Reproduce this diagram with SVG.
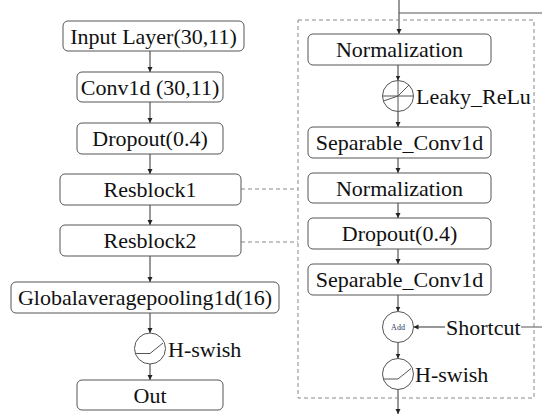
<svg xmlns="http://www.w3.org/2000/svg" width="542" height="416" viewBox="0 0 542 416">
<defs>
<marker id="ah" viewBox="0 0 10 10" refX="10" refY="5" markerWidth="5" markerHeight="6" markerUnits="userSpaceOnUse" orient="auto">
<path d="M0,0 L10,5 L0,10 z" fill="#222"/>
</marker>
</defs>
<style>
.box{fill:#fff;stroke:#555;stroke-width:1}
.t{font-family:'Liberation Serif','Times New Roman',serif;font-size:22px;fill:#111;text-anchor:middle}
.tl{font-family:'Liberation Serif','Times New Roman',serif;font-size:22px;fill:#111}
.ar{stroke:#333;stroke-width:1;fill:none;marker-end:url(#ah)}
.ln{stroke:#555;stroke-width:1;fill:none}
.dash{stroke:#888;stroke-width:1;fill:none;stroke-dasharray:4 3}
.circ{fill:#fff;stroke:#555;stroke-width:1}
.g{stroke:#555;stroke-width:1;fill:none}
</style>
<rect width="542" height="416" fill="#fff"/>

<g id="connectors">
<line class="ar" x1="150" y1="51" x2="150" y2="72"/>
<line class="ar" x1="150" y1="102" x2="150" y2="123"/>
<line class="ar" x1="150" y1="154" x2="150" y2="174"/>
<line class="ar" x1="150" y1="205" x2="150" y2="225"/>
<line class="ar" x1="150" y1="256" x2="150" y2="282"/>
<line class="ar" x1="150" y1="313" x2="150" y2="333"/>
<line class="ar" x1="150" y1="364" x2="150" y2="380"/>
<line class="dash" x1="241" y1="189" x2="298" y2="189"/>
<line class="dash" x1="241" y1="242" x2="298" y2="242"/>
<line class="ar" x1="399" y1="0" x2="399" y2="34"/>
<line class="ln" x1="399" y1="13" x2="542" y2="13"/>
<line class="ar" x1="398" y1="65" x2="398" y2="80.5"/>
<line class="ar" x1="398" y1="111.5" x2="398" y2="127"/>
<line class="ar" x1="398" y1="158" x2="398" y2="173"/>
<line class="ar" x1="398" y1="203" x2="398" y2="218"/>
<line class="ar" x1="398" y1="249" x2="398" y2="264"/>
<line class="ar" x1="398" y1="295" x2="398" y2="311.5"/>
<line class="ar" x1="398" y1="342.5" x2="398" y2="358.5"/>
<line class="ar" x1="398" y1="389.5" x2="398" y2="414"/>
<line class="ar" x1="445" y1="327" x2="413.5" y2="327"/>
<line class="ln" x1="521" y1="327" x2="542" y2="327"/>
</g>

<rect id="resblock-frame" class="dash" x="298" y="20" width="236" height="378"/>

<g id="input"><rect class="box" x="63" y="21" width="181" height="30" rx="5"/><text class="t" x="153.5" y="43.5">Input Layer(30,11)</text></g>
<g id="conv1d"><rect class="box" x="77" y="72" width="146" height="30" rx="5"/><text class="t" x="150" y="94.5">Conv1d (30,11)</text></g>
<g id="dropout-l"><rect class="box" x="77" y="123" width="146" height="31" rx="5"/><text class="t" x="150" y="146">Dropout(0.4)</text></g>
<g id="resblock1"><rect class="box" x="60" y="174" width="181" height="31" rx="5"/><text class="t" x="150" y="197">Resblock1</text></g>
<g id="resblock2"><rect class="box" x="60" y="225" width="181" height="31" rx="5"/><text class="t" x="150" y="248">Resblock2</text></g>
<g id="gap"><rect class="box" x="11" y="282" width="268" height="31" rx="5"/><text class="t" x="145" y="305">Globalaveragepooling1d(16)</text></g>
<g id="hswish-l"><circle class="circ" cx="150" cy="348.5" r="15.5"/><path class="g" d="M135.5,353.5 L150,353.5 L163,343"/><text class="tl" x="168" y="356.5">H-swish</text></g>
<g id="out"><rect class="box" x="77" y="380" width="146" height="30" rx="5"/><text class="t" x="150" y="402.5">Out</text></g>

<g id="norm1"><rect class="box" x="308" y="34" width="183" height="31" rx="5"/><text class="t" x="399.5" y="57">Normalization</text></g>
<g id="leaky"><circle class="circ" cx="398" cy="96" r="15.5"/><path class="g" d="M398,80.5 V111.5 M382.5,96 H413.5 M383.5,101 L398,96 L409,85"/><text class="tl" x="416" y="103.5">Leaky_ReLu</text></g>
<g id="sep1"><rect class="box" x="308" y="127" width="183" height="31" rx="5"/><text class="t" x="399.5" y="150">Separable_Conv1d</text></g>
<g id="norm2"><rect class="box" x="308" y="173" width="183" height="30" rx="5"/><text class="t" x="399.5" y="195.5">Normalization</text></g>
<g id="dropout-r"><rect class="box" x="308" y="218" width="183" height="31" rx="5"/><text class="t" x="399.5" y="241">Dropout(0.4)</text></g>
<g id="sep2"><rect class="box" x="308" y="264" width="183" height="31" rx="5"/><text class="t" x="399.5" y="287">Separable_Conv1d</text></g>
<g id="add"><circle class="circ" cx="398" cy="327" r="15.5"/><text x="398" y="330" font-family="'Liberation Serif',serif" font-size="8" fill="#1f3864" text-anchor="middle">Add</text></g>
<g id="shortcut"><text class="tl" x="446" y="334.5">Shortcut</text></g>
<g id="hswish-r"><circle class="circ" cx="398" cy="374" r="15.5"/><path class="g" d="M383.5,379 L398,379 L411,368.5"/><text class="tl" x="415" y="381.5">H-swish</text></g>
</svg>
